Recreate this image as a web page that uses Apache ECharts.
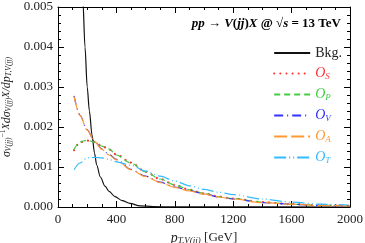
<!DOCTYPE html>
<html><head><meta charset="utf-8">
<script src="https://cdn.jsdelivr.net/npm/echarts@6/dist/echarts.min.js"></script>
<style>html,body{margin:0;padding:0;background:#fff}#c{width:365px;height:243px}</style>
</head><body><div id="c"></div>
<script>
// Data
const bkgX = [150, 160, 170, 185, 200, 215, 233, 250, 265, 290, 322, 350, 390, 440, 493, 560, 650, 800, 1000, 2000];
const bkgY = [0.0075, 0.0062, 0.0052, 0.0040, 0.0030, 0.0024, 0.0018, 0.00135, 0.00105, 0.00075, 0.00052, 0.00039, 0.00026, 0.00016, 0.00009, 0.00003, 0.00001, 0.000003, 0.000001, 0];
const sigX = [110, 150, 200, 250, 300, 350, 400, 500, 600, 700, 800, 900, 1000, 1100, 1200, 1400, 1600, 1800, 1990];
const osY = [0.00142, 0.00162, 0.00166, 0.00162, 0.00153, 0.00144, 0.00131, 0.00111, 0.00088, 0.00070, 0.00055, 0.00043, 0.00034, 0.00026, 0.00021, 0.00012, 0.00007, 0.00004, 0.00003];
const opY = [0.00144, 0.00163, 0.00167, 0.00162, 0.00152, 0.00145, 0.00130, 0.00110, 0.00088, 0.00070, 0.00055, 0.00043, 0.00034, 0.00026, 0.00021, 0.00012, 0.00007, 0.00004, 0.00003];
const ovY = [0.00278, 0.00230, 0.00193, 0.00165, 0.00145, 0.00131, 0.00119, 0.00094, 0.00077, 0.00062, 0.00050, 0.00041, 0.00033, 0.00025, 0.00020, 0.00011, 0.00007, 0.00004, 0.00003];
const oaY = [0.00276, 0.00229, 0.00192, 0.00164, 0.00144, 0.00130, 0.00118, 0.00093, 0.00076, 0.00061, 0.00049, 0.00040, 0.00032, 0.00025, 0.00020, 0.00011, 0.00007, 0.00004, 0.00003];
const otY = [0.00093, 0.00110, 0.00123, 0.00124, 0.00123, 0.00119, 0.00113, 0.00104, 0.00090, 0.00077, 0.00065, 0.00053, 0.00044, 0.00037, 0.00031, 0.00020, 0.00012, 0.00007, 0.00005];
const xTicks = [0, 400, 800, 1200, 1600, 2000];
const yTicks = [0.000, 0.001, 0.002, 0.003, 0.004, 0.005];

const F = 'Liberation Serif';
const pair = (xs, ys) => xs.map((x, i) => [x, ys[i]]);
const legendItem = (name, color) => ({
  name: name,
  textStyle: {color: color, fontFamily: F, fontSize: 14,
    rich: {o: {color: color, fontFamily: F, fontSize: 14, fontStyle: 'italic'},
           s: {color: color, fontFamily: F, fontSize: 9, fontStyle: 'italic', padding: [6,0,0,0]}}}
});
const cols = {S: '#ff3333', P: '#44cc44', V: '#3333ff', A: '#ff9933', T: '#33bbff'};

const chart = echarts.init(document.getElementById('c'), null, {renderer: 'canvas'});
const axisCommon = {
  axisLine: {show: true, onZero: false, lineStyle: {color: '#000', width: 1}},
  axisTick: {show: true, inside: true, length: 6, lineStyle: {color: '#000'}},
  splitLine: {show: false}
};
chart.setOption({
  animation: false,
  grid: {left: 58, right: 15, top: 7, bottom: 36, containLabel: false, outerBoundsMode: 'none'},
  title: {
    text: '{i|pp}{b| → }{i|V}{b|(}{i|jj}{b|)}{i|X}{b| @ √}{i|s}{b| = 13 TeV}',
    right: 19, top: 12,
    textStyle: {rich: {
      i: {fontFamily: F, fontSize: 13, fontWeight: 'bold', fontStyle: 'italic', color: '#000'},
      b: {fontFamily: F, fontSize: 13, fontWeight: 'bold', color: '#000'}
    }}
  },
  legend: {
    orient: 'vertical', right: 18, top: 41, itemWidth: 36, itemHeight: 14, itemGap: 6.5,
    itemStyle: {opacity: 0},
    formatter: function (name) {
      if (name === 'Bkg.') return 'Bkg.';
      return '{o|O}{s|' + name.slice(1) + '}';
    },
    textStyle: {fontFamily: F, fontSize: 14, color: '#222'},
    data: [
      {name: 'Bkg.', textStyle: {color: '#222', fontFamily: F, fontSize: 14}},
      legendItem('OS', cols.S),
      legendItem('OP', cols.P),
      legendItem('OV', cols.V),
      legendItem('OA', cols.A),
      legendItem('OT', cols.T)
    ]
  },
  xAxis: [
    Object.assign({}, axisCommon, {
      type: 'value', min: 0, max: 2000, interval: 400, position: 'bottom',
      minorTick: {show: true, splitNumber: 4, length: 3, lineStyle: {color: '#000'}},
      axisLabel: {fontFamily: F, fontSize: 13, color: '#222', margin: 6,
        formatter: v => xTicks.includes(v) ? String(v) : ''},
      name: '{i|p}{s|T,V(jj)} [GeV]', nameLocation: 'middle', nameGap: 22,
      nameTextStyle: {fontFamily: F, fontSize: 13, color: '#222',
        rich: {i: {fontFamily: F, fontSize: 14, fontStyle: 'italic', color: '#222'},
               s: {fontFamily: F, fontSize: 9, fontStyle: 'italic', color: '#222', padding: [6,0,0,0]}}}
    }),
    Object.assign({}, axisCommon, {
      type: 'value', min: 0, max: 2000, interval: 400, position: 'top',
      minorTick: {show: true, splitNumber: 4, length: 3, lineStyle: {color: '#000'}},
      axisLabel: {show: false}
    })
  ],
  yAxis: [
    Object.assign({}, axisCommon, {
      type: 'value', min: 0, max: 0.005, interval: 0.001, position: 'left',
      minorTick: {show: true, splitNumber: 5, length: 3, lineStyle: {color: '#000'}},
      axisLabel: {fontFamily: F, fontSize: 13, color: '#222', margin: 5,
        formatter: v => v.toFixed(3)},
      name: '{g|σ}{s|V(jj)}{p|−1}{i|X}{g|dσ}{s|V(jj)}{i|X}{g|/d}{g|p}{s|T,V(jj)}',
      nameLocation: 'middle', nameGap: 41, nameRotate: 90,
      nameTextStyle: {fontFamily: F, fontSize: 12, color: '#222',
        rich: {
          g: {fontFamily: F, fontSize: 12, fontStyle: 'italic', color: '#222'},
          i: {fontFamily: F, fontSize: 10, fontStyle: 'italic', color: '#222'},
          s: {fontFamily: F, fontSize: 7.5, fontStyle: 'italic', color: '#222', padding: [5,0,0,0]},
          p: {fontFamily: F, fontSize: 7.5, color: '#222', padding: [0,0,6,0]}
        }}
    }),
    Object.assign({}, axisCommon, {
      type: 'value', min: 0, max: 0.005, interval: 0.001, position: 'right',
      minorTick: {show: true, splitNumber: 5, length: 3, lineStyle: {color: '#000'}},
      axisLabel: {show: false}
    })
  ],
  series: [
    {name: 'Bkg.', type: 'line', data: pair(bkgX, bkgY), showSymbol: false, symbol: 'none', smooth: 0.3, smoothMonotone: 'x',
      clip: true, lineStyle: {color: '#111', width: 1.2, type: 'solid'}, itemStyle: {color: '#111'}},
    {name: 'OS', type: 'line', data: pair(sigX, osY), symbol: 'none', smooth: 0.3, smoothMonotone: 'x',
      lineStyle: {color: cols.S, width: 2.2, type: [0.1, 6], cap: 'round'}, itemStyle: {color: cols.S}},
    {name: 'OP', type: 'line', data: pair(sigX, opY), symbol: 'none', smooth: 0.3, smoothMonotone: 'x',
      lineStyle: {color: cols.P, width: 1.2, type: [6, 4]}, itemStyle: {color: cols.P}},
    {name: 'OV', type: 'line', data: pair(sigX, ovY), symbol: 'none', smooth: 0.3, smoothMonotone: 'x',
      lineStyle: {color: cols.V, width: 1.2, type: [9, 4, 1, 4]}, itemStyle: {color: cols.V}},
    {name: 'OA', type: 'line', data: pair(sigX, oaY), symbol: 'none', smooth: 0.3, smoothMonotone: 'x',
      lineStyle: {color: cols.A, width: 1.2, type: [13, 4]}, itemStyle: {color: cols.A}},
    {name: 'OT', type: 'line', data: pair(sigX, otY), symbol: 'none', smooth: 0.3, smoothMonotone: 'x',
      lineStyle: {color: cols.T, width: 1.2, type: [12, 3, 1, 3, 1, 3]}, itemStyle: {color: cols.T}}
  ]
});
</script>
</body></html>
